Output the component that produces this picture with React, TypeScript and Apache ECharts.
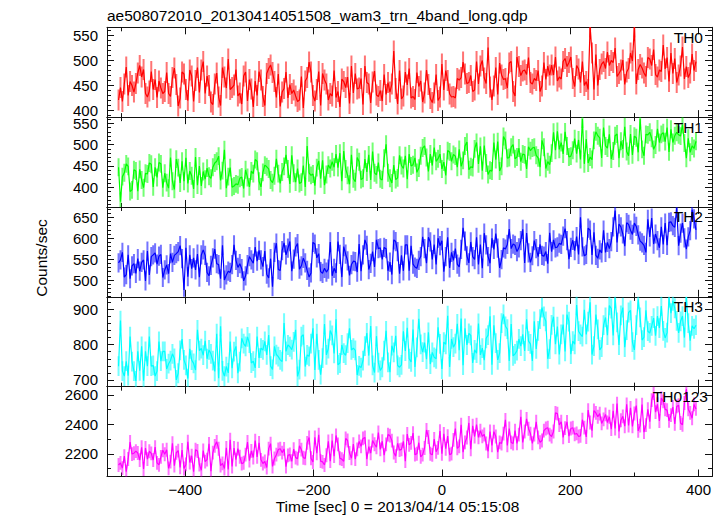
import React, { useEffect, useRef } from "react";
import * as echarts from "echarts";

const TITLE = "ae508072010_20130414051508_wam3_trn_4band_long.qdp";
const X_NAME = "Time [sec] 0 = 2013/04/14 05:15:08";
const Y_NAME = "Counts/sec";

// time bins (sec): first bin and bin width
const T_START = -504;
const T_BIN = 3;

const X_MAJOR = [-400, -200, 0, 200, 400];
const X_MINOR = [-500, -300, -100, 100, 300];

const TH0 = [
  420, 445, 417, 452, 486, 429, 457, 449, 436, 453, 474, 489, 466, 481, 433, 426, 438, 477, 441, 461, 425, 458, 444, 433, 437,
  475, 433, 427, 465, 484, 451, 408, 424, 476, 472, 441, 419, 480, 468, 417, 459, 485, 435, 480, 497, 433, 468, 449, 416, 411,
  452, 474, 426, 409, 485, 466, 444, 502, 441, 445, 450, 481, 428, 434, 412, 468, 476, 418, 461, 442, 406, 458, 429, 477, 460,
  427, 409, 473, 483, 490, 475, 457, 425, 472, 407, 436, 443, 476, 424, 451, 433, 440, 428, 417, 420, 467, 404, 458, 465, 496,
  476, 429, 418, 441, 477, 409, 473, 460, 452, 420, 433, 428, 479, 425, 437, 406, 462, 457, 445, 466, 413, 488, 434, 473, 442,
  444, 463, 411, 488, 455, 452, 414, 456, 478, 430, 427, 439, 418, 471, 431, 455, 436, 452, 518, 443, 412, 479, 422, 428, 476,
  450, 483, 424, 427, 421, 475, 447, 458, 416, 434, 480, 451, 423, 415, 434, 471, 419, 426, 492, 440, 479, 459, 432, 426, 427,
  424, 463, 460, 465, 496, 472, 453, 455, 469, 437, 440, 497, 452, 488, 499, 464, 453, 525, 446, 420, 448, 485, 431, 494, 470,
  461, 463, 444, 494, 497, 437, 428, 506, 487, 469, 478, 480, 471, 505, 455, 452, 463, 459, 479, 437, 448, 495, 461, 488, 470,
  490, 470, 506, 458, 466, 462, 497, 503, 487, 495, 506, 463, 447, 489, 482, 455, 497, 449, 457, 441, 566, 514, 441, 511, 449,
  481, 492, 497, 483, 516, 489, 499, 495, 524, 467, 473, 480, 500, 451, 476, 483, 514, 498, 566, 452, 481, 491, 484, 474, 467,
  505, 502, 489, 521, 471, 466, 480, 477, 530, 482, 505, 457, 514, 473, 503, 455, 470, 488, 526, 462, 487, 465, 474, 512, 479,
  497,
];

const TH1 = [
  447, 366, 425, 434, 455, 449, 390, 394, 441, 438, 391, 442, 417, 399, 433, 431, 457, 454, 401, 447, 423, 458, 455, 399, 433,
  411, 398, 470, 414, 395, 466, 446, 410, 461, 414, 469, 409, 438, 427, 396, 471, 405, 450, 403, 437, 419, 445, 426, 421, 447,
  457, 461, 473, 416, 439, 488, 398, 425, 446, 400, 403, 408, 406, 421, 424, 397, 441, 423, 401, 438, 432, 465, 461, 414, 401,
  435, 452, 448, 443, 417, 411, 427, 467, 432, 409, 436, 449, 476, 443, 408, 475, 433, 412, 444, 409, 412, 451, 401, 497, 434,
  428, 431, 404, 446, 462, 420, 463, 405, 430, 452, 444, 460, 447, 478, 446, 480, 414, 485, 443, 428, 407, 476, 420, 413, 470,
  460, 418, 421, 466, 436, 476, 417, 484, 434, 429, 458, 420, 417, 468, 501, 434, 421, 410, 452, 418, 422, 475, 451, 444, 474,
  419, 478, 450, 453, 469, 435, 445, 474, 492, 497, 470, 437, 478, 451, 493, 461, 467, 478, 443, 459, 428, 486, 483, 461, 477,
  473, 447, 489, 449, 463, 497, 506, 441, 448, 446, 490, 505, 455, 496, 439, 498, 457, 430, 440, 438, 505, 465, 507, 438, 449,
  519, 510, 468, 470, 494, 500, 467, 471, 492, 460, 478, 476, 443, 495, 486, 492, 494, 475, 469, 447, 510, 494, 444, 460, 453,
  480, 529, 487, 531, 489, 505, 478, 530, 497, 471, 473, 487, 514, 479, 511, 465, 560, 455, 513, 457, 471, 465, 510, 530, 521,
  516, 469, 540, 497, 492, 524, 466, 485, 521, 525, 468, 508, 490, 542, 484, 474, 525, 476, 520, 516, 482, 560, 489, 474, 524,
  523, 529, 515, 489, 499, 537, 505, 524, 528, 507, 540, 483, 536, 505, 521, 529, 523, 520, 547, 504, 468, 515, 482, 497, 491,
  508,
];

const TH2 = [
  541, 548, 566, 507, 513, 560, 503, 534, 539, 516, 551, 521, 542, 548, 498, 569, 512, 556, 560, 565, 538, 557, 561, 506, 524,
  536, 515, 563, 542, 559, 563, 568, 582, 551, 476, 577, 508, 560, 527, 553, 524, 562, 507, 560, 572, 559, 518, 510, 535, 553,
  574, 539, 537, 503, 583, 500, 512, 521, 518, 537, 584, 547, 530, 539, 527, 498, 510, 537, 556, 548, 540, 579, 545, 571, 548,
  532, 569, 514, 505, 551, 484, 566, 588, 525, 523, 570, 589, 560, 576, 592, 521, 550, 579, 587, 526, 534, 552, 541, 523, 507,
  517, 590, 586, 553, 563, 520, 516, 528, 519, 526, 591, 510, 528, 517, 592, 561, 507, 580, 562, 546, 511, 537, 545, 544, 519,
  586, 521, 560, 596, 583, 525, 540, 568, 531, 596, 575, 577, 549, 578, 575, 522, 543, 513, 596, 592, 568, 515, 559, 522, 584,
  584, 522, 582, 538, 531, 528, 547, 556, 603, 575, 540, 602, 591, 549, 585, 537, 600, 582, 594, 520, 556, 602, 529, 566, 547,
  575, 538, 531, 573, 625, 593, 558, 541, 591, 556, 549, 602, 537, 585, 528, 612, 584, 556, 540, 600, 573, 611, 576, 529, 549,
  577, 574, 585, 622, 575, 586, 583, 568, 577, 594, 621, 541, 612, 565, 542, 558, 594, 575, 556, 585, 559, 557, 568, 539, 613,
  568, 596, 577, 579, 588, 585, 605, 623, 594, 550, 578, 595, 570, 604, 561, 650, 579, 558, 561, 624, 619, 560, 614, 559, 552,
  572, 565, 619, 566, 590, 575, 592, 627, 666, 590, 634, 627, 610, 581, 637, 633, 619, 609, 636, 628, 608, 593, 589, 583, 566,
  645, 603, 648, 586, 610, 594, 577, 627, 585, 636, 583, 638, 639, 630, 626, 672, 582, 612, 636, 601, 574, 603, 618, 668, 646,
  620,
];

const TH3 = [
  739, 868, 725, 711, 753, 712, 823, 752, 725, 697, 781, 726, 795, 698, 781, 739, 823, 739, 741, 711, 725, 809, 753, 781, 781,
  731, 746, 755, 774, 761, 700, 719, 784, 816, 757, 741, 704, 788, 756, 747, 728, 842, 783, 789, 770, 811, 760, 785, 774, 755,
  724, 831, 705, 852, 726, 711, 738, 720, 809, 733, 780, 795, 719, 752, 818, 803, 795, 822, 804, 748, 753, 734, 823, 762, 790,
  785, 809, 771, 827, 739, 730, 795, 772, 766, 757, 752, 861, 781, 799, 794, 786, 808, 842, 710, 729, 823, 828, 738, 771, 767,
  803, 846, 728, 831, 757, 715, 762, 858, 771, 789, 840, 826, 775, 872, 743, 748, 799, 776, 770, 804, 846, 785, 790, 784, 714,
  740, 735, 755, 796, 833, 769, 853, 741, 721, 824, 749, 727, 736, 783, 839, 750, 722, 797, 778, 825, 741, 736, 743, 838, 782,
  848, 760, 751, 843, 737, 792, 873, 801, 779, 806, 759, 835, 745, 778, 764, 760, 849, 802, 731, 807, 801, 882, 737, 816, 793,
  803, 859, 784, 874, 742, 846, 799, 832, 826, 748, 785, 776, 860, 771, 790, 756, 818, 827, 880, 743, 855, 804, 757, 776, 861,
  886, 852, 844, 754, 858, 768, 774, 783, 816, 796, 829, 782, 872, 810, 802, 754, 866, 788, 839, 872, 905, 880, 866, 760, 787,
  856, 879, 801, 851, 772, 829, 857, 781, 885, 865, 773, 810, 801, 912, 838, 829, 823, 899, 829, 865, 920, 772, 796, 885, 843,
  785, 793, 855, 877, 827, 911, 902, 826, 932, 863, 799, 883, 905, 793, 841, 891, 897, 807, 785, 855, 928, 877, 813, 821, 897,
  838, 833, 853, 875, 825, 881, 847, 909, 839, 819, 834, 933, 889, 924, 903, 867, 833, 866, 881, 820, 935, 861, 811, 853, 845,
  855,
];

const TH0123 = [
  2125, 2139, 2104, 2185, 2079, 2166, 2281, 2199, 2205, 2219, 2206, 2158, 2245, 2098, 2240, 2165, 2218, 2204, 2159, 2246, 2139, 2126, 2180, 2225, 2198,
  2228, 2102, 2148, 2272, 2121, 2208, 2222, 2109, 2227, 2101, 2129, 2283, 2142, 2188, 2080, 2229, 2220, 2128, 2089, 2223, 2148, 2161, 2268, 2083, 2209,
  2255, 2282, 2235, 2121, 2136, 2101, 2241, 2095, 2296, 2115, 2240, 2161, 2236, 2181, 2134, 2140, 2195, 2281, 2155, 2221, 2176, 2290, 2180, 2275, 2160,
  2135, 2149, 2108, 2236, 2270, 2115, 2169, 2195, 2230, 2235, 2209, 2234, 2114, 2190, 2196, 2150, 2233, 2175, 2168, 2255, 2229, 2174, 2170, 2275, 2311,
  2171, 2145, 2312, 2205, 2330, 2151, 2146, 2125, 2191, 2285, 2151, 2290, 2185, 2325, 2265, 2171, 2165, 2150, 2305, 2291, 2206, 2171, 2266, 2165, 2231,
  2285, 2251, 2305, 2312, 2165, 2250, 2205, 2291, 2266, 2245, 2345, 2231, 2286, 2191, 2265, 2331, 2324, 2290, 2210, 2185, 2271, 2226, 2231, 2285, 2151,
  2335, 2261, 2275, 2341, 2195, 2201, 2276, 2180, 2195, 2240, 2362, 2315, 2201, 2194, 2301, 2215, 2241, 2355, 2201, 2336, 2235, 2321, 2195, 2202, 2295,
  2372, 2238, 2251, 2398, 2212, 2278, 2311, 2410, 2232, 2391, 2318, 2399, 2312, 2358, 2319, 2332, 2271, 2218, 2352, 2258, 2351, 2318, 2212, 2278, 2271,
  2338, 2431, 2258, 2372, 2278, 2271, 2358, 2272, 2331, 2452, 2278, 2352, 2438, 2371, 2338, 2272, 2332, 2418, 2312, 2279, 2291, 2358, 2372, 2378, 2331,
  2318, 2352, 2478, 2473, 2396, 2418, 2312, 2375, 2417, 2321, 2372, 2378, 2333, 2339, 2318, 2322, 2432, 2378, 2315, 2497, 2413, 2358, 2494, 2478, 2452,
  2473, 2407, 2434, 2468, 2413, 2452, 2368, 2493, 2372, 2541, 2353, 2428, 2455, 2388, 2536, 2393, 2512, 2387, 2474, 2528, 2356, 2392, 2534, 2348, 2395,
  2503, 2418, 2565, 2612, 2483, 2537, 2423, 2578, 2556, 2502, 2497, 2424, 2463, 2518, 2404, 2522, 2530, 2410, 2398, 2545, 2640, 2503, 2478, 2442, 2536,
  2505,
];

// typical 1-sigma error of a bin, per band
const ERRORS = [21, 21, 23, 28, 47];

const Y_MAJOR = [
  [400, 450, 500, 550],
  [400, 450, 500, 550],
  [500, 550, 600, 650],
  [700, 800, 900],
  [2200, 2400, 2600],
];
const Y_MINOR_STEP = [10, 10, 10, 20, 100];
const Y_RANGE = [
  [385.8, 565.4],
  [353.8, 564.5],
  [459.8, 674.6],
  [681, 935.4],
  [2047, 2656],
];
const NAMES = ["TH0", "TH1", "TH2", "TH3", "TH0123"];
const SERIES = [TH0, TH1, TH2, TH3, TH0123];
const COLORS = ["#ff0000", "#00ff00", "#0000ff", "#00ffff", "#ff00ff"];

const FONT = '"Liberation Sans", Arial, Helvetica, sans-serif';
const X_MIN = -522;
const X_MAX = 421;
const GRID_TOP = 27.3;
const GRID_H = 89.84;
const GRID_LEFT = 107;
const GRID_RIGHT = 12;
const AXIS_COLOR = "#111";

function minorTicks(range: number[], step: number, majors: number[]) {
  const out: number[] = [];
  const start = Math.ceil(range[0] / step) * step;
  for (let v = start; v <= range[1]; v += step) {
    if (!majors.includes(v)) out.push(v);
  }
  return out;
}

const fmt = (v: number) => (v < 0 ? "\u2212" + Math.abs(v) : String(v));

export default function App() {
  const ref = useRef<HTMLDivElement>(null);

  useEffect(() => {
    if (!ref.current) return;
    const chart = echarts.init(ref.current, null, { renderer: "svg" });

    const grids: any[] = [];
    const xAxes: any[] = [];
    const yAxes: any[] = [];
    const series: any[] = [];
    const graphics: any[] = [];

    for (let g = 0; g < 5; g++) {
      const top = GRID_TOP + g * GRID_H;
      grids.push({ left: GRID_LEFT, right: GRID_RIGHT, top, height: GRID_H, containLabel: false });
      const isBottom = g === 4;
      const xBase = {
        type: "value",
        gridIndex: g,
        min: X_MIN,
        max: X_MAX,
        splitLine: { show: false },
      };
      const yMajor = Y_MAJOR[g];
      const yMinor = minorTicks(Y_RANGE[g], Y_MINOR_STEP[g], yMajor);
      const tickStyle = { color: AXIS_COLOR, width: 1 };
      // bottom major
      xAxes.push({
        ...xBase,
        position: "bottom",
        axisLine: { show: true, onZero: false, lineStyle: { color: AXIS_COLOR, width: 1 } },
        axisTick: { show: true, inside: true, length: 7, customValues: X_MAJOR, lineStyle: tickStyle },
        axisLabel: {
          show: isBottom,
          customValues: X_MAJOR,
          formatter: fmt,
          color: "#000",
          fontSize: 15,
          fontFamily: FONT,
          margin: 5,
        },
      });
      // bottom minor
      xAxes.push({
        ...xBase,
        position: "bottom",
        axisLine: { show: false, onZero: false },
        axisTick: { show: true, inside: true, length: 4, customValues: X_MINOR, lineStyle: tickStyle },
        axisLabel: { show: false },
      });
      // top major
      xAxes.push({
        ...xBase,
        position: "top",
        axisLine: { show: true, onZero: false, lineStyle: { color: AXIS_COLOR, width: 1 } },
        axisTick: { show: true, inside: true, length: 7, customValues: X_MAJOR, lineStyle: tickStyle },
        axisLabel: { show: false },
      });
      // top minor
      xAxes.push({
        ...xBase,
        position: "top",
        axisLine: { show: false, onZero: false },
        axisTick: { show: true, inside: true, length: 4, customValues: X_MINOR, lineStyle: tickStyle },
        axisLabel: { show: false },
      });

      const yBase = {
        type: "value",
        gridIndex: g,
        min: Y_RANGE[g][0],
        max: Y_RANGE[g][1],
        splitLine: { show: false },
      };
      yAxes.push({
        ...yBase,
        position: "left",
        axisLine: { show: true, onZero: false, lineStyle: { color: AXIS_COLOR, width: 1 } },
        axisTick: { show: true, inside: true, length: 7, customValues: yMajor, lineStyle: tickStyle },
        axisLabel: {
          show: true,
          customValues: yMajor,
          formatter: fmt,
          color: "#000",
          fontSize: 15,
          fontFamily: FONT,
          margin: 9,
        },
      });
      yAxes.push({
        ...yBase,
        position: "left",
        axisLine: { show: false, onZero: false },
        axisTick: { show: true, inside: true, length: 4, customValues: yMinor, lineStyle: tickStyle },
        axisLabel: { show: false },
      });
      yAxes.push({
        ...yBase,
        position: "right",
        axisLine: { show: true, onZero: false, lineStyle: { color: AXIS_COLOR, width: 1 } },
        axisTick: { show: true, inside: true, length: 7, customValues: yMajor, lineStyle: tickStyle },
        axisLabel: { show: false },
      });
      yAxes.push({
        ...yBase,
        position: "right",
        axisLine: { show: false, onZero: false },
        axisTick: { show: true, inside: true, length: 4, customValues: yMinor, lineStyle: tickStyle },
        axisLabel: { show: false },
      });

      const vals = SERIES[g];
      const data = vals.map((v, i) => [T_START + i * T_BIN, v]);
      const err = ERRORS[g];
      const color = COLORS[g];
      series.push({
        type: "custom",
        name: NAMES[g] + " err",
        xAxisIndex: 4 * g,
        yAxisIndex: 4 * g,
        clip: true,
        silent: true,
        data,
        z: 2,
        renderItem: (_params: any, api: any) => {
          const x = api.value(0);
          const y = api.value(1);
          const p1 = api.coord([x, y - err]);
          const p2 = api.coord([x, y + err]);
          return {
            type: "line",
            shape: { x1: p1[0], y1: p1[1], x2: p2[0], y2: p2[1] },
            style: { stroke: color, lineWidth: 2, opacity: 0.55 },
          };
        },
      });
      series.push({
        type: "line",
        name: NAMES[g],
        xAxisIndex: 4 * g,
        yAxisIndex: 4 * g,
        data,
        showSymbol: false,
        symbol: "none",
        clip: true,
        z: 3,
        lineStyle: { color, width: 1.2 },
        itemStyle: { color },
      });

      graphics.push({
        type: "text",
        x: g === 4 ? 708 : 703,
        y: top + 10,
        style: {
          text: NAMES[g],
          fill: "#000",
          font: `15.5px ${FONT}`,
          textAlign: "right",
          textVerticalAlign: "middle",
        },
        z: 10,
      });
    }

    graphics.push({
      type: "text",
      x: 107,
      y: 15.5,
      style: { text: TITLE, fill: "#000", font: `15.5px ${FONT}`, textAlign: "left", textVerticalAlign: "middle" },
    });
    graphics.push({
      type: "text",
      x: 397.5,
      y: 506.5,
      style: { text: X_NAME, fill: "#000", font: `15.5px ${FONT}`, textAlign: "center", textVerticalAlign: "middle" },
    });
    graphics.push({
      type: "text",
      x: 41.5,
      y: 258,
      rotation: Math.PI / 2,
      style: { text: Y_NAME, fill: "#000", font: `15.5px ${FONT}`, textAlign: "center", textVerticalAlign: "middle" },
    });

    chart.setOption({
      animation: false,
      backgroundColor: "#ffffff",
      grid: grids,
      xAxis: xAxes,
      yAxis: yAxes,
      series,
      graphic: graphics,
    });

    return () => chart.dispose();
  }, []);

  return (
    <div
      ref={ref}
      style={{ position: "fixed", left: 0, top: 0, width: 724, height: 516, background: "#fff" }}
    />
  );
}
